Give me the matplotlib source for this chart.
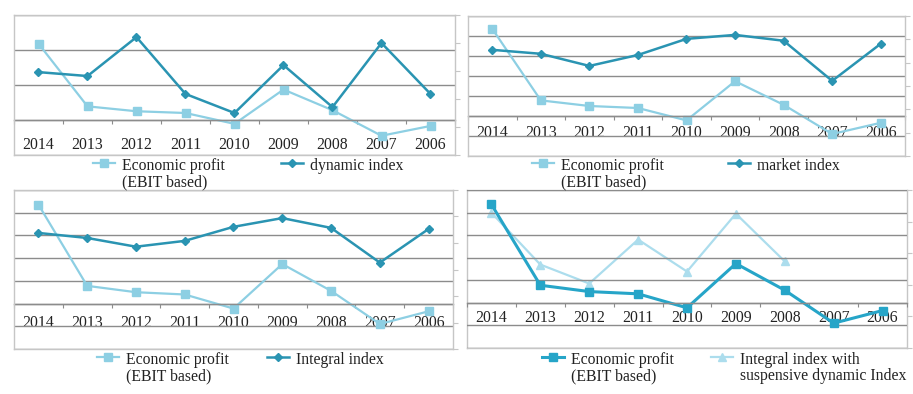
import matplotlib
matplotlib.use('Agg')
import matplotlib.pyplot as plt
import numpy as np
from matplotlib.ticker import FixedLocator

plt.rcParams['font.family'] = ['Liberation Serif', 'DejaVu Serif']

# ---------------- data ----------------
years = ['2014', '2013', '2012', '2011', '2010', '2009', '2008', '2007', '2006']
economic_profit = [2.18, 0.39, 0.25, 0.20, -0.11, 0.87, 0.28, -0.45, -0.17]
dynamic_index = [2.96, 2.82, 4.21, 2.18, 1.50, 3.21, 1.71, 4.00, 2.18]
market_index = [4.55, 4.38, 3.86, 4.33, 5.02, 5.19, 4.94, 3.22, 4.81]
integral_index = [4.38, 4.19, 3.86, 4.08, 4.61, 4.94, 4.57, 3.26, 4.53]
integral_suspensive = [4.28, 2.64, 2.04, 3.43, 2.42, 4.25, 2.74, np.nan, np.nan]

ep_label = 'Economic profit\n(EBIT based)'
labels2 = ['dynamic index', 'market index', 'Integral index',
           'Integral index with\nsuspensive dynamic Index']

# ---------------- styling ----------------
W, H = 913, 394
fig = plt.figure(figsize=(W / 100, H / 100), dpi=100)
fig.patch.set_facecolor('white')

LIGHT = '#8dcfe3'
DARK = '#2a94b2'
MID = '#26a5c8'
PALE = '#acdded'
GRID = '#8c8c8c'
FRAME = '#c6c6c6'
FS = 11.3

panels = [
    dict(rect=(14, 15, 455, 155), ylim1=(-1, 3), step1=1.0, ylim2=(0, 5),
         s2=dynamic_index, lab2=labels2[0], pad=12.0,
         leg=(93, 158), cs=3.55, ep_style='light', s2_style='dark'),
    dict(rect=(468, 16, 905, 156), ylim1=(-1, 2.5), step1=0.5, ylim2=(0, 6),
         s2=market_index, lab2=labels2[1], pad=6.5,
         leg=(532, 158), cs=4.1, ep_style='light', s2_style='dark'),
    dict(rect=(14, 190, 453, 349), ylim1=(-1, 2.5), step1=0.5, ylim2=(0, 6),
         s2=integral_index, lab2=labels2[2], pad=8.0,
         leg=(97, 352), cs=2.45, ep_style='light', s2_style='dark'),
    dict(rect=(467, 190, 907, 348), ylim1=(-1, 2.5), step1=0.5, ylim2=(0, 5),
         s2=integral_suspensive, lab2=labels2[3], pad=5.0,
         leg=(542, 352), cs=2.35, ep_style='mid', s2_style='pale'),
]

styles = {
    'light': dict(color=LIGHT, lw=1.6, marker='s', ms=5.5),
    'dark': dict(color=DARK, lw=1.8, marker='D', ms=4.0),
    'mid': dict(color=MID, lw=2.2, marker='s', ms=6.0),
    'pale': dict(color=PALE, lw=1.6, marker='^', ms=5.5),
}

x = np.arange(len(years))

for p in panels:
    x0, y0, x1, y1 = p['rect']
    ax = fig.add_axes([x0 / W, 1 - y1 / H, (x1 - x0) / W, (y1 - y0) / H])
    ax2 = ax.twinx()

    l1, = ax.plot(x, p_ep := economic_profit, label=ep_label, **styles[p['ep_style']])
    l2, = ax2.plot(x, p['s2'], label=p['lab2'], **styles[p['s2_style']])

    if p['ep_style'] == 'mid':
        ax.set_zorder(ax2.get_zorder() + 1)
        ax.patch.set_visible(False)

    ax.set_xlim(-0.5, len(years) - 0.5)
    ax.set_ylim(*p['ylim1'])
    lo, hi = p['ylim1']
    ax.yaxis.set_major_locator(FixedLocator(np.arange(lo, hi + 1e-9, p['step1'])))
    ax.yaxis.grid(True, color=GRID, lw=1.0)
    ax.set_axisbelow(True)
    ax.tick_params(axis='y', left=False, labelleft=False, right=False)

    # category axis crossing at zero
    for s in ['top', 'left', 'right']:
        ax.spines[s].set_visible(False)
    ax.spines['bottom'].set_position(('data', 0))
    ax.spines['bottom'].set_color(GRID)
    ax.spines['bottom'].set_linewidth(1.0)
    ax.set_xticks(x)
    ax.set_xticklabels(years, fontsize=FS)
    ax.set_xticks(np.arange(-0.5, len(years) - 0.4, 1.0), minor=True)
    ax.tick_params(axis='x', which='major', length=0, pad=p['pad'], colors='#222222')
    ax.tick_params(axis='x', which='minor', length=3, width=0.8, color=GRID, direction='out')

    # secondary axis: frame + right ticks only
    lo2, hi2 = p['ylim2']
    ax2.set_ylim(lo2, hi2)
    ax2.yaxis.set_major_locator(FixedLocator(np.arange(lo2, hi2 + 1e-9, 1.0)))
    ax2.tick_params(axis='y', right=True, labelright=False, length=3.5, width=0.8,
                    color=FRAME, direction='out')
    for s in ax2.spines.values():
        s.set_color(FRAME)
        s.set_linewidth(1.0)

    lx, ly = p['leg']
    leg = fig.legend([l1, l2], [ep_label, p['lab2']], loc='upper left',
                     bbox_to_anchor=(lx / W, 1 - ly / H), ncol=2, frameon=False,
                     borderpad=0, borderaxespad=0, handlelength=1.4,
                     handletextpad=0.45, columnspacing=p['cs'],
                     prop={'size': FS, 'family': ['Liberation Serif', 'DejaVu Serif']})
    for t in leg.get_texts():
        t.set_linespacing(1.0)
        t.set_color('#222222')
    box = leg._legend_handle_box
    box.align = 'top'
    for col in box.get_children():
        for item in col.get_children():
            item.align = 'top'

fig.savefig('out.png', dpi=100, facecolor='white')
